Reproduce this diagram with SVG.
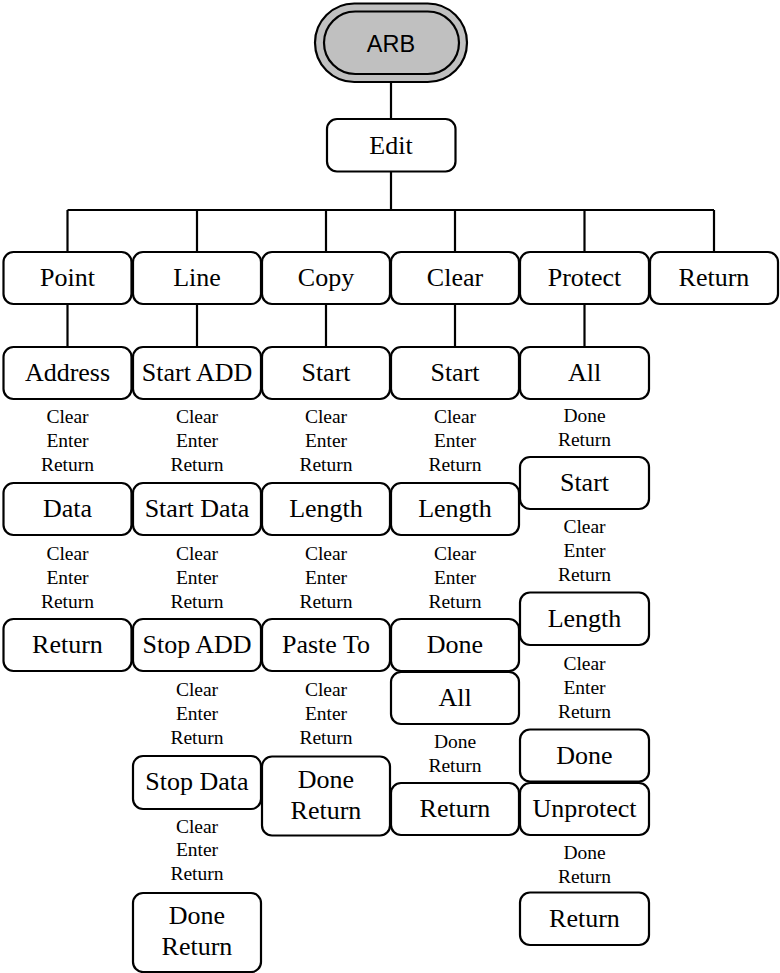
<svg xmlns="http://www.w3.org/2000/svg" width="780" height="973" viewBox="0 0 780 973">
<style>
.b{fill:#fff;stroke:#000;stroke-width:2.2}
.t{font-family:"Liberation Serif","Times New Roman",serif;font-size:26px;text-anchor:middle;fill:#000}
.s{font-family:"Liberation Serif","Times New Roman",serif;font-size:19.5px;text-anchor:middle;fill:#000}
.c{stroke:#000;stroke-width:2.2;fill:none}
</style>
<rect width="780" height="973" fill="#fff"/>
<g id="connectors">
<path class="c" d="M391 82V119M391 172V210M67.5 210H714M67.5 210V252M197 210V252M326 210V252M455 210V252M584.5 210V252M714 210V252M67.5 304V347M197 304V347M326 304V347M455 304V347M584.5 304V347"/>
</g>
<g id="arb">
<rect x="315" y="3.5" width="152" height="78.5" rx="39.25" fill="#c0c0c0" stroke="#000" stroke-width="2.2"/>
<rect x="324" y="11.5" width="135" height="62.5" rx="31.25" fill="#c0c0c0" stroke="#000" stroke-width="2.2"/>
<text x="391" y="51.5" font-family="'Liberation Sans',Arial,sans-serif" font-size="23.5" text-anchor="middle">ARB</text>
</g>
<g id="edit"><rect class="b" x="327" y="119" width="128.5" height="52.5" rx="10"/><text class="t" x="391" y="154">Edit</text></g>

<g id="point"><rect class="b" x="3.5" y="252" width="128" height="52" rx="10"/><text class="t" x="67.5" y="286">Point</text></g>
<g id="line"><rect class="b" x="133" y="252" width="128" height="52" rx="10"/><text class="t" x="197" y="286">Line</text></g>
<g id="copy"><rect class="b" x="262" y="252" width="128" height="52" rx="10"/><text class="t" x="326" y="286">Copy</text></g>
<g id="clear"><rect class="b" x="391" y="252" width="128" height="52" rx="10"/><text class="t" x="455" y="286">Clear</text></g>
<g id="protect"><rect class="b" x="520" y="252" width="129" height="52" rx="10"/><text class="t" x="584.5" y="286">Protect</text></g>
<g id="return-top"><rect class="b" x="650" y="252" width="128" height="52" rx="10"/><text class="t" x="714" y="286">Return</text></g>

<!-- Point column -->
<g id="address"><rect class="b" x="3.5" y="347" width="128" height="52" rx="10"/><text class="t" x="67.5" y="381">Address</text></g>
<text class="s" x="67.5" y="423">Clear</text><text class="s" x="67.5" y="447">Enter</text><text class="s" x="67.5" y="471">Return</text>
<g id="data"><rect class="b" x="3.5" y="483" width="128" height="52" rx="10"/><text class="t" x="67.5" y="517">Data</text></g>
<text class="s" x="67.5" y="560">Clear</text><text class="s" x="67.5" y="584">Enter</text><text class="s" x="67.5" y="608">Return</text>
<g id="point-return"><rect class="b" x="3.5" y="619" width="128" height="52" rx="10"/><text class="t" x="67.5" y="653">Return</text></g>

<!-- Line column -->
<g id="start-add"><rect class="b" x="133" y="347" width="128" height="52" rx="10"/><text class="t" x="197" y="381">Start ADD</text></g>
<text class="s" x="197" y="423">Clear</text><text class="s" x="197" y="447">Enter</text><text class="s" x="197" y="471">Return</text>
<g id="start-data"><rect class="b" x="133" y="483" width="128" height="52" rx="10"/><text class="t" x="197" y="517">Start Data</text></g>
<text class="s" x="197" y="560">Clear</text><text class="s" x="197" y="584">Enter</text><text class="s" x="197" y="608">Return</text>
<g id="stop-add"><rect class="b" x="133" y="619" width="128" height="52" rx="10"/><text class="t" x="197" y="653">Stop ADD</text></g>
<text class="s" x="197" y="696">Clear</text><text class="s" x="197" y="720">Enter</text><text class="s" x="197" y="744">Return</text>
<g id="stop-data"><rect class="b" x="133" y="756" width="128" height="53" rx="10"/><text class="t" x="197" y="790">Stop Data</text></g>
<text class="s" x="197" y="833">Clear</text><text class="s" x="197" y="856">Enter</text><text class="s" x="197" y="880">Return</text>
<g id="line-done-return"><rect class="b" x="133" y="893" width="128" height="79" rx="10"/><text class="t" x="197" y="924">Done</text><text class="t" x="197" y="955">Return</text></g>

<!-- Copy column -->
<g id="copy-start"><rect class="b" x="262" y="347" width="128" height="52" rx="10"/><text class="t" x="326" y="381">Start</text></g>
<text class="s" x="326" y="423">Clear</text><text class="s" x="326" y="447">Enter</text><text class="s" x="326" y="471">Return</text>
<g id="copy-length"><rect class="b" x="262" y="483" width="128" height="52" rx="10"/><text class="t" x="326" y="517">Length</text></g>
<text class="s" x="326" y="560">Clear</text><text class="s" x="326" y="584">Enter</text><text class="s" x="326" y="608">Return</text>
<g id="paste-to"><rect class="b" x="262" y="619" width="128" height="52" rx="10"/><text class="t" x="326" y="653">Paste To</text></g>
<text class="s" x="326" y="696">Clear</text><text class="s" x="326" y="720">Enter</text><text class="s" x="326" y="744">Return</text>
<g id="copy-done-return"><rect class="b" x="262" y="756.5" width="128" height="79" rx="10"/><text class="t" x="326" y="788">Done</text><text class="t" x="326" y="819">Return</text></g>

<!-- Clear column -->
<g id="clear-start"><rect class="b" x="391" y="347" width="128" height="52" rx="10"/><text class="t" x="455" y="381">Start</text></g>
<text class="s" x="455" y="423">Clear</text><text class="s" x="455" y="447">Enter</text><text class="s" x="455" y="471">Return</text>
<g id="clear-length"><rect class="b" x="391" y="483" width="128" height="52" rx="10"/><text class="t" x="455" y="517">Length</text></g>
<text class="s" x="455" y="560">Clear</text><text class="s" x="455" y="584">Enter</text><text class="s" x="455" y="608">Return</text>
<g id="clear-done"><rect class="b" x="391" y="619" width="128" height="52" rx="10"/><text class="t" x="455" y="653">Done</text></g>
<g id="clear-all"><rect class="b" x="391" y="672" width="128" height="52" rx="10"/><text class="t" x="455" y="706">All</text></g>
<text class="s" x="455" y="748">Done</text><text class="s" x="455" y="772">Return</text>
<g id="clear-return"><rect class="b" x="391" y="783" width="128" height="52" rx="10"/><text class="t" x="455" y="817">Return</text></g>

<!-- Protect column -->
<g id="protect-all"><rect class="b" x="520" y="347" width="129" height="52" rx="10"/><text class="t" x="584.5" y="381">All</text></g>
<text class="s" x="584.5" y="422">Done</text><text class="s" x="584.5" y="446">Return</text>
<g id="protect-start"><rect class="b" x="520" y="457" width="129" height="52" rx="10"/><text class="t" x="584.5" y="491">Start</text></g>
<text class="s" x="584.5" y="533">Clear</text><text class="s" x="584.5" y="557">Enter</text><text class="s" x="584.5" y="581">Return</text>
<g id="protect-length"><rect class="b" x="520" y="592.5" width="129" height="52.5" rx="10"/><text class="t" x="584.5" y="627">Length</text></g>
<text class="s" x="584.5" y="670">Clear</text><text class="s" x="584.5" y="694">Enter</text><text class="s" x="584.5" y="718">Return</text>
<g id="protect-done"><rect class="b" x="520" y="729.5" width="129" height="52" rx="10"/><text class="t" x="584.5" y="764">Done</text></g>
<g id="unprotect"><rect class="b" x="520" y="783" width="129" height="52" rx="10"/><text class="t" x="584.5" y="817">Unprotect</text></g>
<text class="s" x="584.5" y="859">Done</text><text class="s" x="584.5" y="883">Return</text>
<g id="protect-return"><rect class="b" x="520" y="892.5" width="129" height="52.5" rx="10"/><text class="t" x="584.5" y="927">Return</text></g>
</svg>
